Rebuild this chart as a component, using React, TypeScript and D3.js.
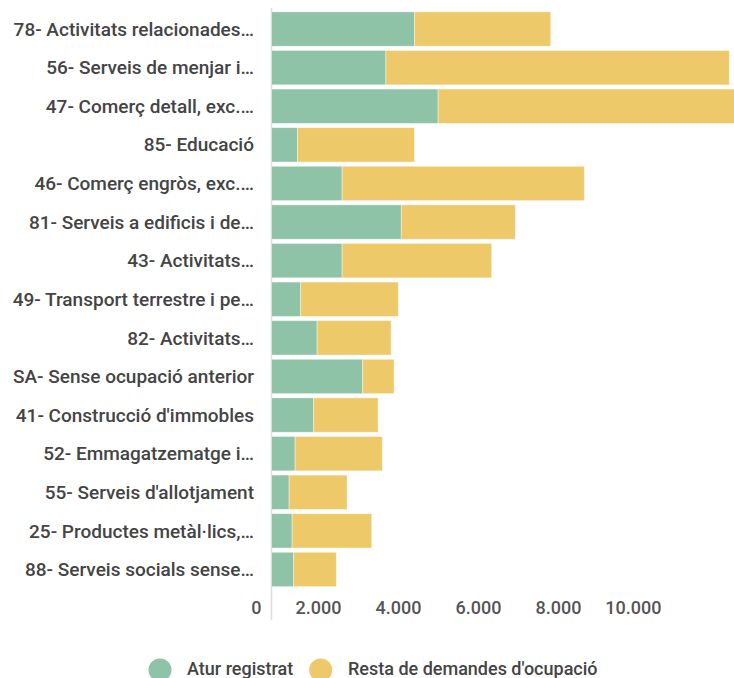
import React from "react";
import * as d3 from "d3";

const categories = [
  "78- Activitats relacionades…",
  "56- Serveis de menjar i…",
  "47- Comerç detall, exc.…",
  "85- Educació",
  "46- Comerç engròs, exc.…",
  "81- Serveis a edificis i de…",
  "43- Activitats…",
  "49- Transport terrestre i pe…",
  "82- Activitats…",
  "SA- Sense ocupació anterior",
  "41- Construcció d'immobles",
  "52- Emmagatzematge i…",
  "55- Serveis d'allotjament",
  "25- Productes metàl·lics,…",
  "88- Serveis socials sense…",
];
const aturRegistrat = [3575, 2860, 4165, 650, 1765, 3245, 1765, 730, 1140, 2280, 1055, 590, 440, 515, 555];
const restaDemandes = [3405, 8585, 8600, 2925, 6055, 2850, 3740, 2440, 1850, 785, 1610, 2180, 1450, 1990, 1065];
const xTicks = [0, 2000, 4000, 6000, 8000, 10000];
const seriesNames = ["Atur registrat", "Resta de demandes d'ocupació"];
const seriesColors = ["#8fc3a7", "#eec96a"];

const W = 734;
const H = 678;
const FONT = "Roboto, 'Noto Sans', sans-serif";

export default function App() {
  const x = d3.scaleLinear().domain([0, 10000]).range([271.5, 671.5]);
  const y = d3
    .scaleBand<string>()
    .domain(categories)
    .range([8, 590.5])
    .paddingInner(0.11)
    .paddingOuter(0.1);
  const rows = categories.map((c, i) => ({ c, a: aturRegistrat[i], r: restaDemandes[i] }));
  const fmt = (v: number) => d3.format(",")(v).replace(/,/g, ".");
  return (
    <>
      <style>{"body{margin:0}"}</style>
      <svg width={W} height={H} style={{ display: "block", fontFamily: FONT }}>
        <line x1={x(0)} x2={x(0)} y1={8} y2={620} stroke="#dddddd" strokeWidth={1.5} />
        {rows.map((d) => (
          <g key={d.c}>
            <rect
              x={x(0)}
              y={y(d.c)}
              width={x(d.a) - x(0)}
              height={y.bandwidth()}
              fill={seriesColors[0]}
              stroke="#ffffff"
              strokeOpacity={0.5}
              strokeWidth={0.8}
            />
            <rect
              x={x(d.a)}
              y={y(d.c)}
              width={x(d.a + d.r) - x(d.a)}
              height={y.bandwidth()}
              fill={seriesColors[1]}
              stroke="#ffffff"
              strokeOpacity={0.5}
              strokeWidth={0.8}
            />
            <text
              x={254}
              y={(y(d.c) as number) + y.bandwidth() / 2}
              dy="0.35em"
              textAnchor="end"
              fontSize={19}
              fontWeight={500}
              fill="#444444"
            >
              {d.c}
            </text>
          </g>
        ))}
        {xTicks.map((t) => (
          <text key={t} x={x(t) - 10} y={608} dy="0.35em" textAnchor="end" fontSize={18} fontWeight={500} fill="#555555">
            {fmt(t)}
          </text>
        ))}
        <g>
          <circle cx={160} cy={670} r={11.5} fill={seriesColors[0]} />
          <text x={187} y={669} dy="0.35em" fontSize={18} fontWeight={500} fill="#444444">
            {seriesNames[0]}
          </text>
          <circle cx={320.7} cy={670} r={11.5} fill={seriesColors[1]} />
          <text x={348} y={669} dy="0.35em" fontSize={18} fontWeight={500} fill="#444444">
            {seriesNames[1]}
          </text>
        </g>
      </svg>
    </>
  );
}
